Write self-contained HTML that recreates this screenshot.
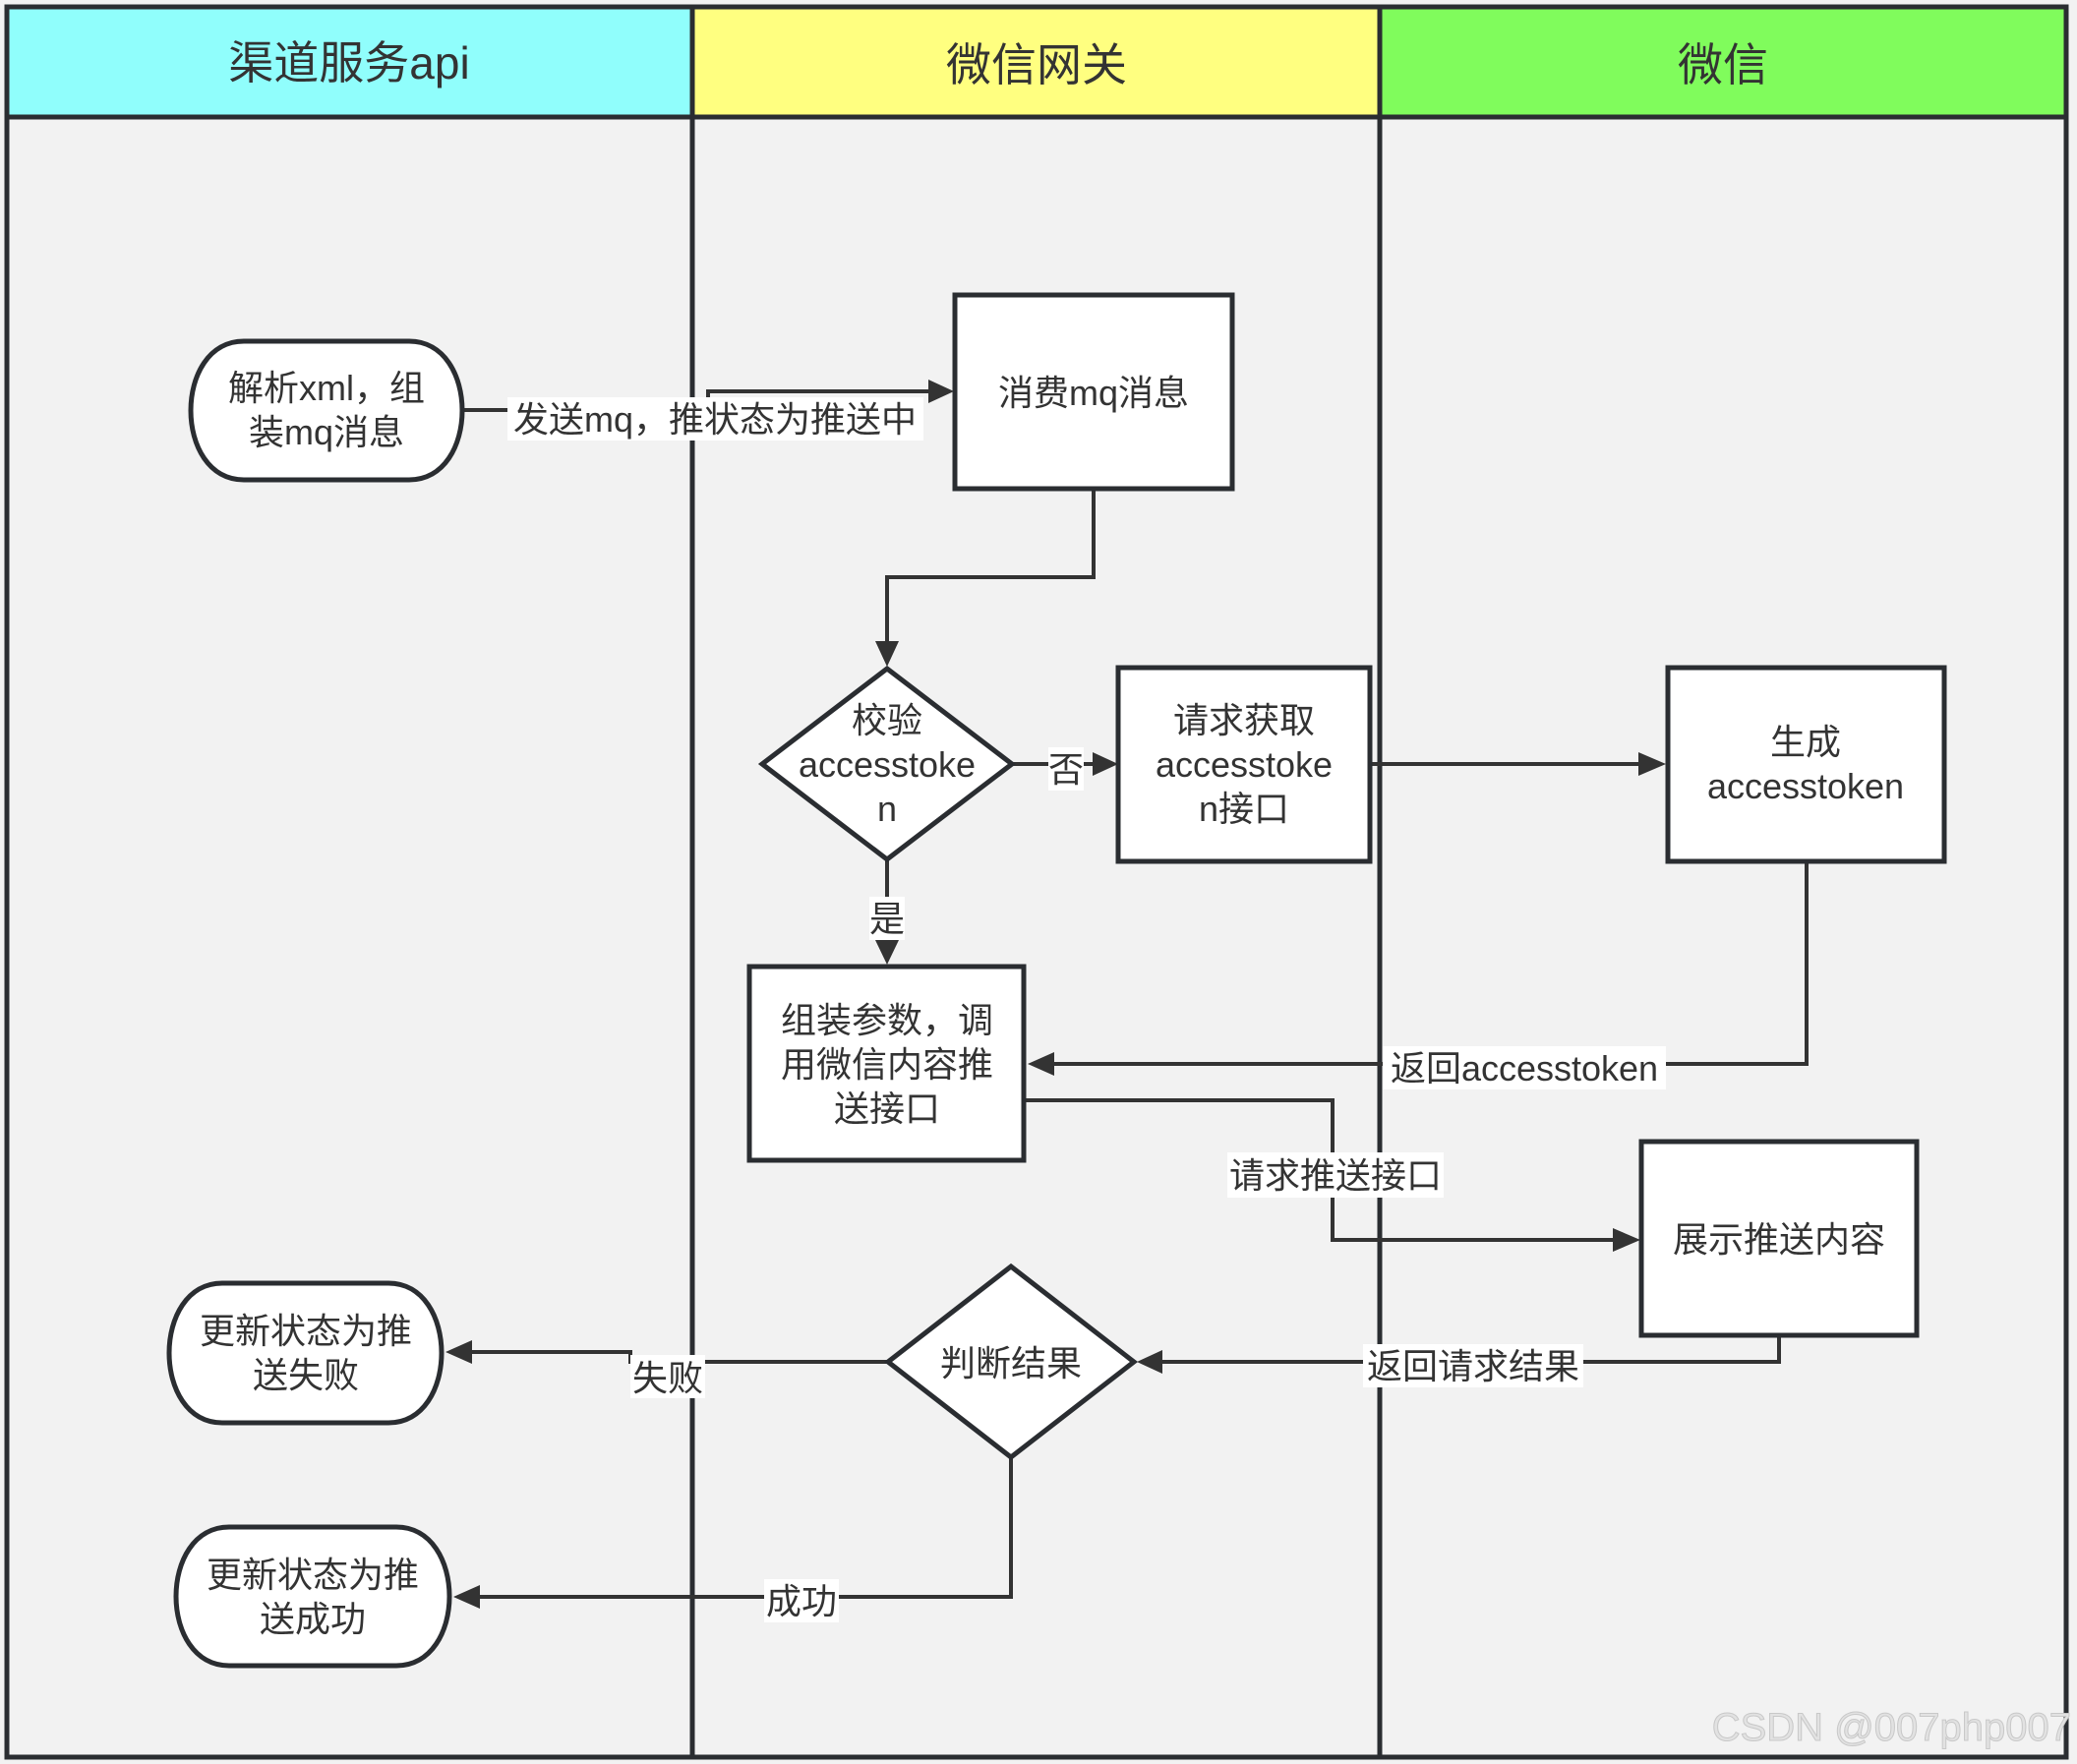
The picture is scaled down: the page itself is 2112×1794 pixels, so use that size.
<!DOCTYPE html>
<html><head><meta charset="utf-8"><style>
html,body{margin:0;padding:0;background:#f2f2f2;}
svg{display:block;}
text{font-family:"Liberation Sans","Noto Sans CJK SC",sans-serif;fill:#333;}
</style></head><body>
<svg width="2112" height="1794" viewBox="0 0 2112 1794" xmlns="http://www.w3.org/2000/svg">
<defs>
<marker id="a" markerWidth="10" markerHeight="10" refX="9" refY="5" orient="auto" markerUnits="userSpaceOnUse" viewBox="0 0 10 10">
</marker>
</defs>
<rect x="0" y="0" width="2112" height="1794" fill="#f2f2f2"/>
<!-- headers -->
<rect x="7" y="7" width="697" height="112" fill="#90fefc"/>
<rect x="704" y="7" width="699" height="112" fill="#ffff80"/>
<rect x="1403" y="7" width="698" height="112" fill="#80fc5c"/>
<g stroke="#2a2d31" stroke-width="5" fill="none">
<rect x="7" y="7" width="2094" height="1780"/>
<line x1="7" y1="119" x2="2101" y2="119"/>
<line x1="704" y1="7" x2="704" y2="1787"/>
<line x1="1403" y1="7" x2="1403" y2="1787"/>
</g>
<g font-size="46" text-anchor="middle">
<text x="355" y="80">渠道服务api</text>
<text x="1054" y="82">微信网关</text>
<text x="1752" y="82">微信</text>
</g>

<!-- connectors -->
<g stroke="#333" stroke-width="4" fill="none">
<polyline points="471,417 720,417 720,398 948,398"/>
<polyline points="1112,497 1112,587 902,587 902,655"/>
<line x1="1029" y1="777" x2="1115" y2="777"/>
<line x1="902" y1="874" x2="902" y2="960"/>
<line x1="1393" y1="777" x2="1670" y2="777"/>
<polyline points="1837,876 1837,1082 1068,1082"/>
<polyline points="1041,1119 1355,1119 1355,1261 1644,1261"/>
<polyline points="1809,1358 1809,1385 1178,1385"/>
<polyline points="903,1385 641,1385 641,1375 476,1375"/>
<polyline points="1028,1482 1028,1624 484,1624"/>
</g>
<g fill="#333">
<polygon points="970,398 944,386 944,410"/>
<polygon points="902,678 890,652 914,652"/>
<polygon points="1137,777 1111,765 1111,789"/>
<polygon points="902,981 890,956 914,956"/>
<polygon points="1694,777 1666,765 1666,789"/>
<polygon points="1045,1082 1072,1070 1072,1094"/>
<polygon points="1668,1261 1640,1249 1640,1273"/>
<polygon points="1156,1385 1182,1373 1182,1397"/>
<polygon points="453,1375 480,1363 480,1387"/>
<polygon points="461,1624 488,1612 488,1636"/>
</g>

<!-- label backgrounds -->
<g fill="#fff">
<rect x="516" y="404" width="423" height="44"/>
<rect x="1066" y="760" width="36" height="44"/>
<rect x="884" y="912" width="36" height="44"/>
<rect x="1406" y="1064" width="288" height="44"/>
<rect x="1248" y="1172" width="220" height="46"/>
<rect x="1386" y="1367" width="224" height="44"/>
<rect x="641" y="1378" width="76" height="44"/>
<rect x="777" y="1606" width="76" height="44"/>
</g>
<g font-size="36" text-anchor="middle">
<text x="727" y="439">发送mq，推状态为推送中</text>
<text x="1084" y="795">否</text>
<text x="902" y="947">是</text>
<text x="1550" y="1099">返回accesstoken</text>
<text x="1358" y="1208">请求推送接口</text>
<text x="1498" y="1402">返回请求结果</text>
<text x="679" y="1414">失败</text>
<text x="815" y="1641">成功</text>
</g>

<!-- nodes -->
<g stroke="#2a2d31" stroke-width="5" fill="#fff">
<path d="M248,347 H416 C488,347 488,488 416,488 H248 C176,488 176,347 248,347 Z"/>
<rect x="971" y="300" width="282" height="197"/>
<polygon points="902,680 1029,777 902,874 775,777"/>
<rect x="1137" y="679" width="256" height="197"/>
<rect x="1696" y="679" width="281" height="197"/>
<rect x="762" y="983" width="279" height="197"/>
<rect x="1669" y="1161" width="280" height="197"/>
<polygon points="1028,1288 1153,1385 1028,1482 903,1385"/>
<path d="M226,1305 H395 C467,1305 467,1447 395,1447 H226 C154,1447 154,1305 226,1305 Z"/>
<path d="M233,1553 H403 C475,1553 475,1694 403,1694 H233 C161,1694 161,1553 233,1553 Z"/>
</g>
<g font-size="36" text-anchor="middle">
<text x="332" y="407">解析xml，组</text>
<text x="332" y="452">装mq消息</text>
<text x="1112" y="412">消费mq消息</text>
<text x="902" y="745">校验</text>
<text x="902" y="790">accesstoke</text>
<text x="902" y="835">n</text>
<text x="1265" y="745">请求获取</text>
<text x="1265" y="790">accesstoke</text>
<text x="1265" y="835">n接口</text>
<text x="1836" y="767">生成</text>
<text x="1836" y="812">accesstoken</text>
<text x="902" y="1050">组装参数，调</text>
<text x="902" y="1095">用微信内容推</text>
<text x="902" y="1140">送接口</text>
<text x="1809" y="1273">展示推送内容</text>
<text x="1028" y="1399">判断结果</text>
<text x="311" y="1366">更新状态为推</text>
<text x="311" y="1411">送失败</text>
<text x="318" y="1614">更新状态为推</text>
<text x="318" y="1659">送成功</text>
</g>
<text x="2106" y="1770" font-size="40" text-anchor="end" style="fill:#e2e2e2;stroke:#c8c8c8;stroke-width:1">CSDN @007php007</text>
</svg>
</body></html>
